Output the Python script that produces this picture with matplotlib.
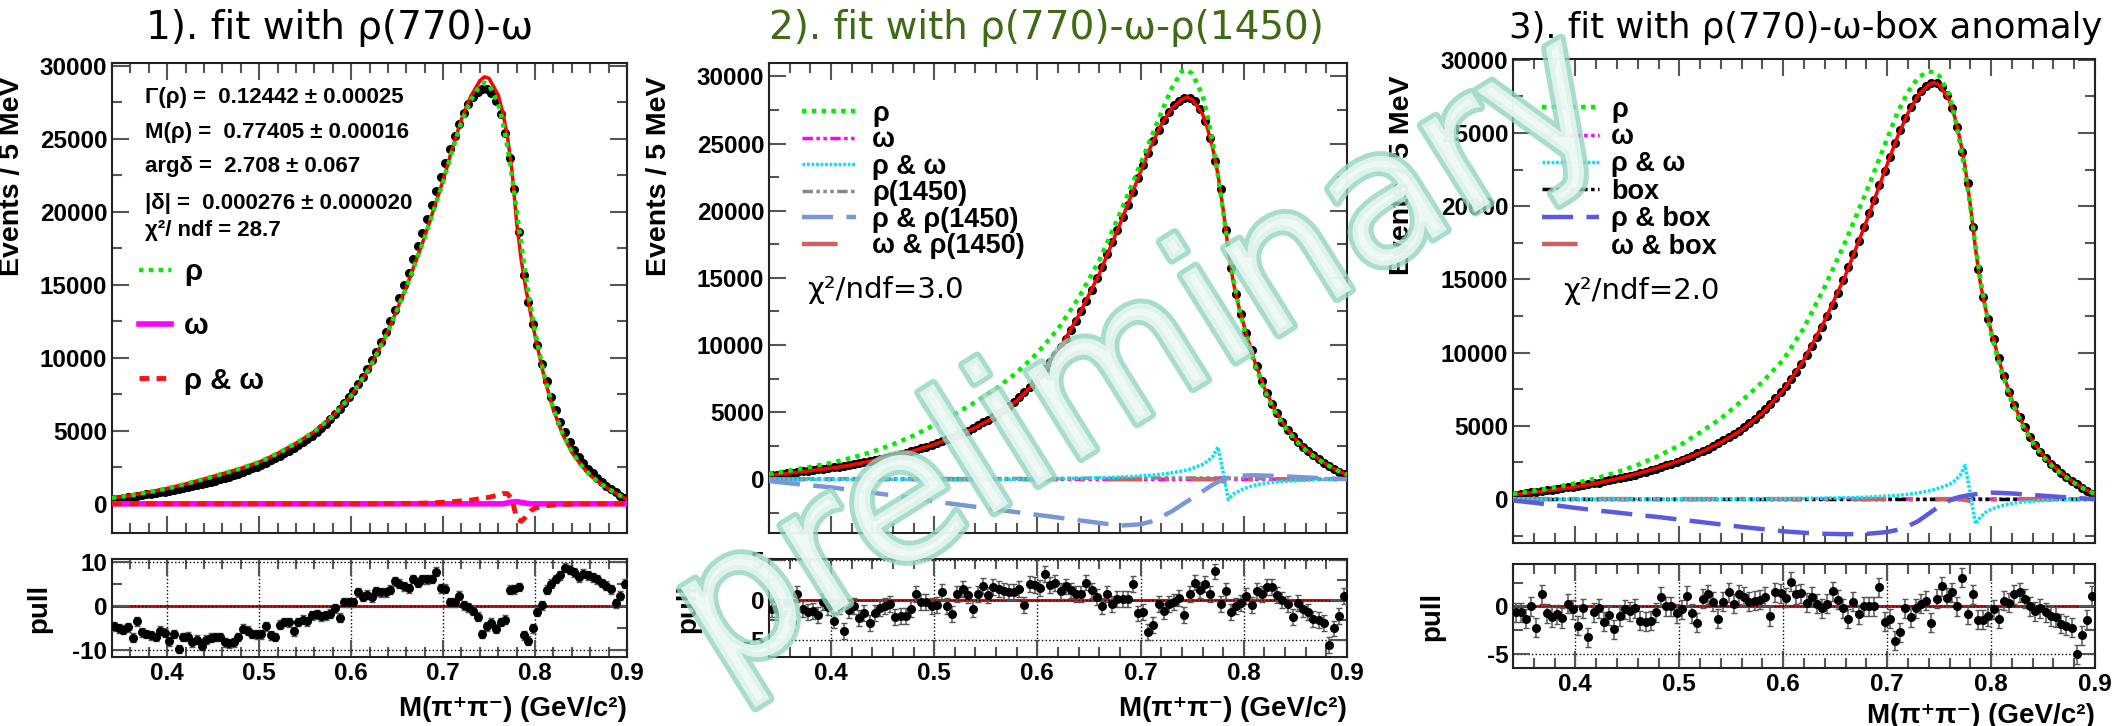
import numpy as np
import matplotlib
matplotlib.use('Agg')
import matplotlib.pyplot as plt
import matplotlib.patheffects as pe
from matplotlib.lines import Line2D
from matplotlib.ticker import MultipleLocator

plt.rcParams['font.family'] = ['Liberation Sans', 'DejaVu Sans']
plt.rcParams['font.weight'] = 'bold'
plt.rcParams['axes.unicode_minus'] = False

# ---- data: 5 MeV bins of M(pi+ pi-) ----
mass = np.linspace(0.3425, 0.8975, 112)
events = [300, 350, 400, 450, 500, 545, 590, 640, 690, 740, 790, 840, 890, 950, 1010,
          1070, 1130, 1200, 1270, 1340, 1420, 1500, 1580, 1670, 1760, 1860, 1960, 2070,
          2180, 2300, 2420, 2550, 2680, 2820, 2970, 3120, 3280, 3450, 3630, 3820, 4020,
          4230, 4450, 4670,
          4900, 5170, 5470, 5790, 6130, 6490, 6880, 7290, 7730, 8200, 8710, 9250, 9820,
          10430, 11080, 11770, 12500, 13280, 14100, 14960, 15840, 16740, 17650, 18570,
          19500, 20450, 21420, 22400, 23380, 24330, 25220, 26030, 26750, 27360, 27850,
          28200, 28400, 28400, 28150, 27600, 26700, 25400, 23700,
          21600, 18600, 15700, 13800, 12300, 10900, 9600, 8400, 7300, 6400, 5600, 4900,
          4250, 3700, 3200, 2800, 2400, 2100, 1800, 1500, 1250, 1000, 780, 560, 380]

pull1 = [-4.6, -5.0, -5.3, -4.8, -7.2, -3.4, -5.9, -6.3, -6.6, -7.0, -5.6, -6.0, -8.0, -6.3,
         -9.7, -7.0, -6.9, -8.2, -7.6, -9.0, -7.6, -7.2, -7.0, -7.0, -8.2, -8.4, -8.2, -7.0,
         -5.1, -5.6, -6.3, -6.4, -6.4, -4.6, -6.6, -7.0, -4.2, -3.6, -3.7, -5.7, -3.6, -3.1,
         -3.4, -2.1, -1.9, -2.3, -2.1, -1.7, -0.5, -2.6, 0.8, 0.8, 0.8, 3.1, 2.1, 2.5, 2.0,
         3.3, 3.1, 3.1, 3.7, 5.6, 5.0, 4.4, 4.0, 6.1, 5.2, 6.0, 6.0, 6.1, 7.7, 4.0, 3.9, 0.8,
         0.8, 2.3, 0.2, -0.3, -1.1, -2.4, -6.3, -4.6, -3.8, -5.1, -3.6, -3.1, 3.7, 3.8, 4.3,
         -6.6, -7.8, -5.0, -1.3, 0.2, 3.7, 5.0, 6.1, 6.9, 8.6, 8.2, 7.6, 6.5, 7.3, 6.9, 6.5,
         6.0, 5.2, 4.6, 3.8, 0.6, 2.3, 5.0]
pull2 = [-1.2, -1.2, -1.8, -0.4, -2.8, 0.8, -1.1, -1.5, -1.4, -1.9, -0.3, -0.9, -2.6, -0.8,
         -3.9, -1.3, -0.8, -2.3, -1.6, -2.9, -1.6, -1.0, -0.8, -0.5, -2.1, -2.0, -2.0, -1.1,
         0.8, -0.3, -0.3, -0.8, -0.6, 1.0, -0.8, -1.8, 0.7, 1.4, 0.6, -1.1, 0.7, 1.8, 0.6,
         1.6, 1.4, 1.1, 1.0, 1.0, 1.4, -0.6, 2.0, 1.9, 1.5, 3.3, 1.9, 2.1, 1.1, 1.7, 1.2, 0.8,
         0.8, 2.2, 1.2, 0.4, -0.8, 0.8, -0.5, 0.1, 0.1, 0.1, 2.0, -1.7, -1.5, -4.0, -3.2,
         -0.5, -1.4, -0.5, -0.3, 0.3, -1.9, 0.8, 2.2, 1.3, 2.0, 0.7, 3.6, -0.5, 1.1, -1.5,
         -0.8, -0.4, 0.5, -0.6, 1.1, 0.8, 1.6, 1.6, 0.6, 0.0, -0.5, -2.1, -0.4, -1.1, -1.5,
         -2.4, -2.5, -2.9, -5.7, -3.6, -2.0, 0.5]
pull3 = [-0.6, -0.6, -1.3, 0.0, -2.2, 1.3, -0.7, -1.1, -0.8, -1.2, 0.3, -0.3, -2.0, -0.2,
         -3.2, -0.6, -0.2, -1.6, -0.9, -2.4, -1.0, -0.3, -0.5, -0.2, -1.5, -1.6, -1.5, -0.6,
         1.0, 0.0, 0.0, -0.7, -0.3, 1.1, -0.7, -1.7, 0.8, 1.3, 0.5, -1.3, 0.5, 1.5, 0.3, 1.3,
         1.0, 0.5, 0.6, 0.7, 1.0, -1.0, 1.5, 1.4, 0.9, 2.6, 1.3, 1.4, 0.4, 1.0, 0.3, -0.2,
         0.3, 1.6, 0.7, -0.2, -1.3, 0.5, -0.8, 0.0, 0.0, 0.0, 2.0, -1.6, -1.3, -3.6, -2.7,
         -0.2, -1.1, -0.2, 0.3, 0.6, -1.7, 0.8, 2.1, 0.9, 1.5, 0.0, 3.0, -0.8, 1.3, -1.4,
         -1.4, -1.0, -0.3, -1.3, 0.6, 0.4, 1.3, 1.5, 0.8, 0.0, -0.5, -0.2, -0.6, -1.0, -1.1,
         -1.8, -2.0, -2.2, -5.0, -3.0, -1.4, 1.1]

# ---- fit curves, sampled on a coarse mass grid ----
xc = [0.34, 0.36, 0.38, 0.40, 0.42, 0.44, 0.46, 0.48, 0.50, 0.52, 0.54, 0.56, 0.58, 0.60,
      0.62, 0.64, 0.66, 0.68, 0.70, 0.71, 0.72, 0.73, 0.74, 0.745, 0.75, 0.76, 0.765, 0.77,
      0.775, 0.78, 0.785, 0.79, 0.795, 0.80, 0.81, 0.82, 0.83, 0.84, 0.85, 0.86, 0.87, 0.88,
      0.89, 0.90]

# fit 1: rho(770)-omega
fit1_total = [400, 580, 800, 1060, 1360, 1700, 2060, 2430, 2860, 3450, 4150, 4950, 6000,
              7400, 9300, 11820, 14830, 18300, 22150, 24350, 26350, 27900, 29000, 29250,
              29150, 28000, 26800, 25150, 22800, 19250, 16700, 14740, 13100, 11500, 8650,
              6420, 4760, 3530, 2650, 1950, 1450, 1020, 650, 300]
fit1_rho = [400, 580, 800, 1060, 1360, 1700, 2060, 2430, 2860, 3450, 4150, 4950, 6000, 7400,
            9300, 11800, 14800, 18250, 22050, 24200, 26150, 27650, 28650, 28850, 28700, 27400,
            26100, 24400, 22400, 20100, 17800, 15600, 13600, 11800, 8800, 6500, 4800, 3550,
            2650, 1950, 1450, 1020, 650, 300]
fit1_omega = [0, 0, 0, 0, 0, 0, 0, 0, 0, 0, 0, 0, 0, 0, 0, 0, 0, 0, 0, 0, 0, 0, 0, 0, 0, 0,
              0, 60, 120, 150, 100, 40, 0, 0, 0, 0, 0, 0, 0, 0, 0, 0, 0, 0]
fit1_rho_omega = [0, 0, 0, 0, 0, 0, 0, 0, 0, 0, 0, 0, 0, 0, 0, 20, 30, 50, 100, 150, 200, 250,
                  350, 400, 450, 600, 700, 700, 300, -1000, -1200, -900, -500, -300, -150, -80,
                  -40, -20, 0, 0, 0, 0, 0, 0]

# fit 2: rho(770)-omega-rho(1450)
fit2_total = [300, 460, 640, 830, 1070, 1380, 1720, 2120, 2600, 3150, 3850, 4700, 5850, 7400,
              9500, 12200, 15300, 19000, 22900, 24800, 26400, 27600, 28300, 28450, 28300,
              27200, 26100, 24600, 22700, 20100, 17100, 14600, 12900, 11500, 8900, 6800, 5200,
              3950, 3000, 2250, 1650, 1130, 680, 340]
fit2_rho = [400, 650, 920, 1220, 1600, 2050, 2600, 3250, 4050, 4850, 5750, 6750, 7950, 9400,
            11200, 13500, 16300, 19800, 23500, 25400, 27300, 29100, 30400, 30500, 30200, 28600,
            27000, 25100, 22600, 19900, 17300, 14900, 12900, 11300, 8700, 6600, 5050, 3850,
            2900, 2150, 1580, 1100, 680, 340]
fit2_omega = [0, 0, 0, 0, 0, 0, 0, 0, 0, 0, 0, 0, 0, 0, 0, 0, 0, 0, 0, 0, 0, 0, 0, 0, 0, 0,
              0, 30, 80, 120, 60, 20, 0, 0, 0, 0, 0, 0, 0, 0, 0, 0, 0, 0]
fit2_rho_omega = [0, 0, 0, 0, 0, 0, 0, 0, 0, 0, 0, 0, 0, 20, 40, 70, 110, 160, 250, 300, 380,
                  480, 620, 700, 800, 1100, 1350, 1700, 2400, 500, -1500, -1100, -900, -700,
                  -450, -300, -200, -150, -100, -60, -30, -20, -10, 0]
fit2_r1450 = [40, 40, 40, 40, 50, 50, 50, 50, 50, 60, 60, 60, 60, 70, 70, 70, 80, 80, 90, 90,
              100, 100, 100, 100, 100, 100, 100, 100, 100, 90, 90, 80, 80, 70, 60, 50, 50, 40,
              40, 30, 30, 20, 20, 10]
fit2_rho_r1450 = [-130, -300, -450, -600, -800, -1000, -1200, -1400, -1650, -1850, -2050,
                  -2250, -2450, -2650, -2850, -3050, -3250, -3450, -3350, -3150, -2800, -2400,
                  -1900, -1650, -1400, -900, -650, -400, -200, 0, 100, 200, 250, 280, 300, 280,
                  250, 220, 180, 140, 100, 70, 40, 20]
fit2_omega_r1450 = [0, 0, 0, 0, 0, 0, 0, 0, 0, 0, 0, 0, 0, 0, 0, 0, 0, 0, 0, 0, 0, 0, 0, 0,
                    0, 0, 0, 0, -50, -150, -200, -150, -80, -30, 0, 0, 0, 0, 0, 0, 0, 0, 0, 0]

# fit 3: rho(770)-omega-box anomaly
fit3_total = [300, 460, 640, 830, 1080, 1390, 1740, 2150, 2620, 3170, 3870, 4720, 5870, 7420,
              9520, 12200, 15300, 18950, 22850, 24750, 26350, 27600, 28300, 28450, 28300,
              27200, 26100, 24600, 22700, 20100, 17100, 14600, 12900, 11500, 8900, 6800, 5200,
              3950, 3000, 2250, 1650, 1130, 680, 340]
fit3_rho = [350, 560, 800, 1080, 1420, 1830, 2330, 2950, 3650, 4550, 5500, 6700, 8000, 9500,
            11700, 14500, 17600, 21000, 24600, 26400, 27800, 28800, 29200, 29150, 28900, 27600,
            26100, 24300, 22300, 20000, 17300, 14900, 12900, 11300, 8700, 6600, 5050, 3850,
            2900, 2150, 1580, 1100, 680, 340]
fit3_omega = [0, 0, 0, 0, 0, 0, 0, 0, 0, 0, 0, 0, 0, 0, 0, 0, 0, 0, 0, 0, 0, 0, 0, 0, 0, 0,
              0, 30, 80, 120, 60, 20, 0, 0, 0, 0, 0, 0, 0, 0, 0, 0, 0, 0]
fit3_rho_omega = [0, 0, 0, 0, 0, 0, 0, 0, 0, 0, 0, 0, 0, 20, 40, 60, 90, 130, 200, 250, 320,
                  420, 560, 650, 750, 1000, 1250, 1600, 2300, 400, -1700, -1200, -900, -700,
                  -450, -300, -200, -150, -100, -60, -30, -20, -10, 0]
fit3_box = [20, 20, 20, 20, 20, 20, 20, 20, 20, 20, 20, 20, 20, 20, 20, 20, 20, 20, 20, 20,
            20, 20, 20, 20, 20, 20, 20, 20, 20, 20, 20, 20, 20, 20, 20, 20, 20, 20, 20, 20, 20,
            20, 20, 20]
fit3_rho_box = [-100, -250, -420, -600, -770, -920, -1080, -1230, -1400, -1560, -1730, -1900,
                -2050, -2200, -2300, -2370, -2400, -2380, -2250, -2100, -1850, -1500, -1000,
                -750, -500, -100, 50, 150, 220, 280, 330, 380, 420, 440, 420, 380, 330, 280,
                230, 180, 130, 80, 40, 10]
fit3_omega_box = [0, 0, 0, 0, 0, 0, 0, 0, 0, 0, 0, 0, 0, 0, 0, 0, 0, 0, 0, 0, 0, 0, 0, 0, 0,
                  0, 0, 0, -50, -150, -200, -150, -80, -30, 0, 0, 0, 0, 0, 0, 0, 0, 0, 0]

titles = ['1). fit with ρ(770)-ω', '2). fit with ρ(770)-ω-ρ(1450)',
          '3). fit with ρ(770)-ω-box anomaly']
title_colors = ['black', '#3f6b14', 'black']
title_sizes = [28, 28, 25.5]

# ---- styles ----
st = {
    'rho': dict(color='#00ee00', lw=3.2, ls=(0, (1, 1.2))),
    'omega': dict(color='#ff00ff', lw=2.5, ls=(0, (3, 1, 1, 1, 1, 1))),
    'rho_omega': dict(color='#00e5ff', lw=2.5, ls=(0, (0.8, 0.5))),
    'r1450': dict(color='#888888', lw=2.5, ls=(0, (3, 1, 1, 1, 1, 1, 1, 1))),
    'rho_r1450': dict(color='#7b96d6', lw=3.2, ls=(0, (7, 3))),
    'omega_x': dict(color='#cc6262', lw=3.2, ls=(0, (8, 5, 1, 5))),
    'box': dict(color='black', lw=2.5, ls=(0, (3, 1, 1, 1, 1, 1, 1, 1))),
    'rho_box': dict(color='#5a5ae0', lw=3.2, ls=(0, (7, 3))),
}

W, H = 2113, 726
fig = plt.figure(figsize=(W / 100, H / 100), dpi=100)

main_rects = [[112 / W, 1 - 533 / H, 515 / W, 470 / H],
              [769 / W, 1 - 533 / H, 578 / W, 470 / H],
              [1513 / W, 1 - 543 / H, 582 / W, 484 / H]]
pull_rects = [[112 / W, 1 - 657 / H, 515 / W, 98 / H],
              [769 / W, 1 - 657 / H, 578 / W, 98 / H],
              [1513 / W, 1 - 668 / H, 582 / W, 104 / H]]
main_ylims = [(-2000, 30200), (-4000, 31000), (-3000, 30050)]
pull_ylims = [(-11.5, 10.6), (-7.2, 5.17), (-6.44, 4.45)]
pull_major = [10, 5, 5]
pulls = [pull1, pull2, pull3]
title_x = [340 / W, 1046 / W, 1806 / W]


def root_style(ax):
    ax.set_xlim(0.34, 0.9)
    ax.xaxis.set_major_locator(MultipleLocator(0.1))
    ax.xaxis.set_minor_locator(MultipleLocator(0.02))
    ax.tick_params(which='both', direction='in', top=True, right=True,
                   color='#555555', width=1.5, labelsize=17.5)
    ax.tick_params(which='major', length=12)
    ax.tick_params(which='minor', length=7)
    for s in ax.spines.values():
        s.set_linewidth(1.5)
        s.set_color('#222222')


main_axes = []
for i in range(3):
    ax = fig.add_axes(main_rects[i])
    root_style(ax)
    ax.set_ylim(*main_ylims[i])
    ax.yaxis.set_major_locator(MultipleLocator(5000))
    ax.yaxis.set_minor_locator(MultipleLocator(2500))
    ax.tick_params(labelbottom=False)
    ax.plot(mass, events, 'o', color='black', ms=5.5, zorder=2)
    ax.set_ylabel('Events / 5 MeV', fontsize=20.5, fontweight='bold')
    ax.yaxis.set_label_coords(-0.168, 0.76)
    main_axes.append(ax)

    pax = fig.add_axes(pull_rects[i])
    root_style(pax)
    pax.set_ylim(*pull_ylims[i])
    pax.yaxis.set_major_locator(MultipleLocator(pull_major[i]))
    pax.yaxis.set_minor_locator(MultipleLocator(pull_major[i] / 2))
    pax.grid(True, which='major', ls=':', color='black', lw=1)
    pax.axhline(0, color='red', lw=2.2, zorder=1)
    pax.errorbar(mass, pulls[i], yerr=1.0, fmt='o', color='black', ms=5.5,
                 ecolor='#555555', elinewidth=1.1, capsize=2.5, zorder=3)
    pax.set_ylabel('pull', fontsize=20, fontweight='bold')
    pax.yaxis.set_label_coords(-0.117, 0.5)
    pax.set_xlabel('M(π⁺π⁻) (GeV/c²)', fontsize=20, fontweight='bold')
    pax.xaxis.set_label_coords(1.0, -0.40 if i < 2 else -0.34)
    pax.xaxis.label.set_horizontalalignment('right')

    fig.text(title_x[i], 1 - 28 / H, titles[i], fontsize=title_sizes[i],
             fontweight='normal', family='DejaVu Sans', color=title_colors[i],
             ha='center', va='center')

# ---- panel 1 ----
ax = main_axes[0]
ax.plot(xc, fit1_omega, color='#ff00ff', lw=4, zorder=3)
ax.plot(xc, fit1_rho_omega, color='#ff1010', lw=3.5, ls=(0, (2, 1.5)), zorder=3)
ax.plot(xc, fit1_total, color='#ff0000', lw=2.5, zorder=4)
ax.plot(xc, fit1_rho, zorder=5, **st['rho'])
params = ['Γ(ρ) =  0.12442 ± 0.00025', 'M(ρ) =  0.77405 ± 0.00016',
          'argδ =  2.708 ± 0.067', '|δ| =  0.000276 ± 0.000020', 'χ²/ ndf = 28.7']
param_y = [0.926, 0.853, 0.779, 0.702, 0.643]
for t, y in zip(params, param_y):
    ax.text(0.064, y, t, transform=ax.transAxes, fontsize=16, fontweight='bold',
            va='center', ha='left')
h1 = [Line2D([], [], **st['rho']),
      Line2D([], [], color='#ff00ff', lw=4),
      Line2D([], [], color='#ff1010', lw=3.5, ls=(0, (2, 1.5)))]
ax.legend(h1, ['ρ', 'ω', 'ρ & ω'], loc='upper left', bbox_to_anchor=(0.052, 0.585),
          frameon=False, fontsize=21, handlelength=1.1, handletextpad=0.45,
          labelspacing=0.9, borderpad=0, borderaxespad=0)

# ---- panel 2 ----
ax = main_axes[1]
ax.plot(xc, fit2_omega, zorder=3, **st['omega'])
ax.plot(xc, fit2_r1450, zorder=3, **st['r1450'])
ax.plot(xc, fit2_omega_r1450, zorder=3, **st['omega_x'])
ax.plot(xc, fit2_rho_omega, zorder=3, **st['rho_omega'])
ax.plot(xc, fit2_rho_r1450, zorder=3, **st['rho_r1450'])
ax.plot(xc, fit2_total, color='#ff0000', lw=2.5, zorder=4)
ax.plot(xc, fit2_rho, zorder=5, **st['rho'])
h2 = [Line2D([], [], **st[k]) for k in ['rho', 'omega', 'rho_omega', 'r1450',
                                       'rho_r1450', 'omega_x']]
ax.legend(h2, ['ρ', 'ω', 'ρ & ω', 'ρ(1450)', 'ρ & ρ(1450)', 'ω & ρ(1450)'],
          loc='upper left', bbox_to_anchor=(0.057, 0.92), frameon=False, fontsize=19.5,
          handlelength=2.0, handletextpad=0.6, labelspacing=0.02, borderpad=0,
          borderaxespad=0)
ax.text(0.066, 0.518, 'χ²/ndf=3.0', transform=ax.transAxes, fontsize=21,
        fontweight='normal', family='DejaVu Sans', va='center', ha='left')

# ---- panel 3 ----
ax = main_axes[2]
ax.plot(xc, fit3_omega, zorder=3, **st['omega'])
ax.plot(xc, fit3_box, zorder=3, **st['box'])
ax.plot(xc, fit3_omega_box, zorder=3, **st['omega_x'])
ax.plot(xc, fit3_rho_omega, zorder=3, **st['rho_omega'])
ax.plot(xc, fit3_rho_box, zorder=3, **st['rho_box'])
ax.plot(xc, fit3_total, color='#ff0000', lw=2.5, zorder=4)
ax.plot(xc, fit3_rho, zorder=5, **st['rho'])
h3 = [Line2D([], [], **st[k]) for k in ['rho', 'omega', 'rho_omega', 'box',
                                       'rho_box', 'omega_x']]
ax.legend(h3, ['ρ', 'ω', 'ρ & ω', 'box', 'ρ & box', 'ω & box'],
          loc='upper left', bbox_to_anchor=(0.05, 0.922), frameon=False, fontsize=19.5,
          handlelength=2.1, handletextpad=0.45, labelspacing=0.05, borderpad=0,
          borderaxespad=0)
ax.text(0.086, 0.521, 'χ²/ndf=2.0', transform=ax.transAxes, fontsize=21,
        fontweight='normal', family='DejaVu Sans', va='center', ha='left')

# ---- watermark ----
fig.text(0.541, 0.505, 'preliminary', rotation=32, fontsize=134, fontweight='normal',
         family='DejaVu Sans', color='#eef9f5', ha='center', va='center', alpha=0.8,
         zorder=10,
         path_effects=[pe.withStroke(linewidth=7, foreground='#92d5c0')])

fig.savefig('out.png', dpi=100)
